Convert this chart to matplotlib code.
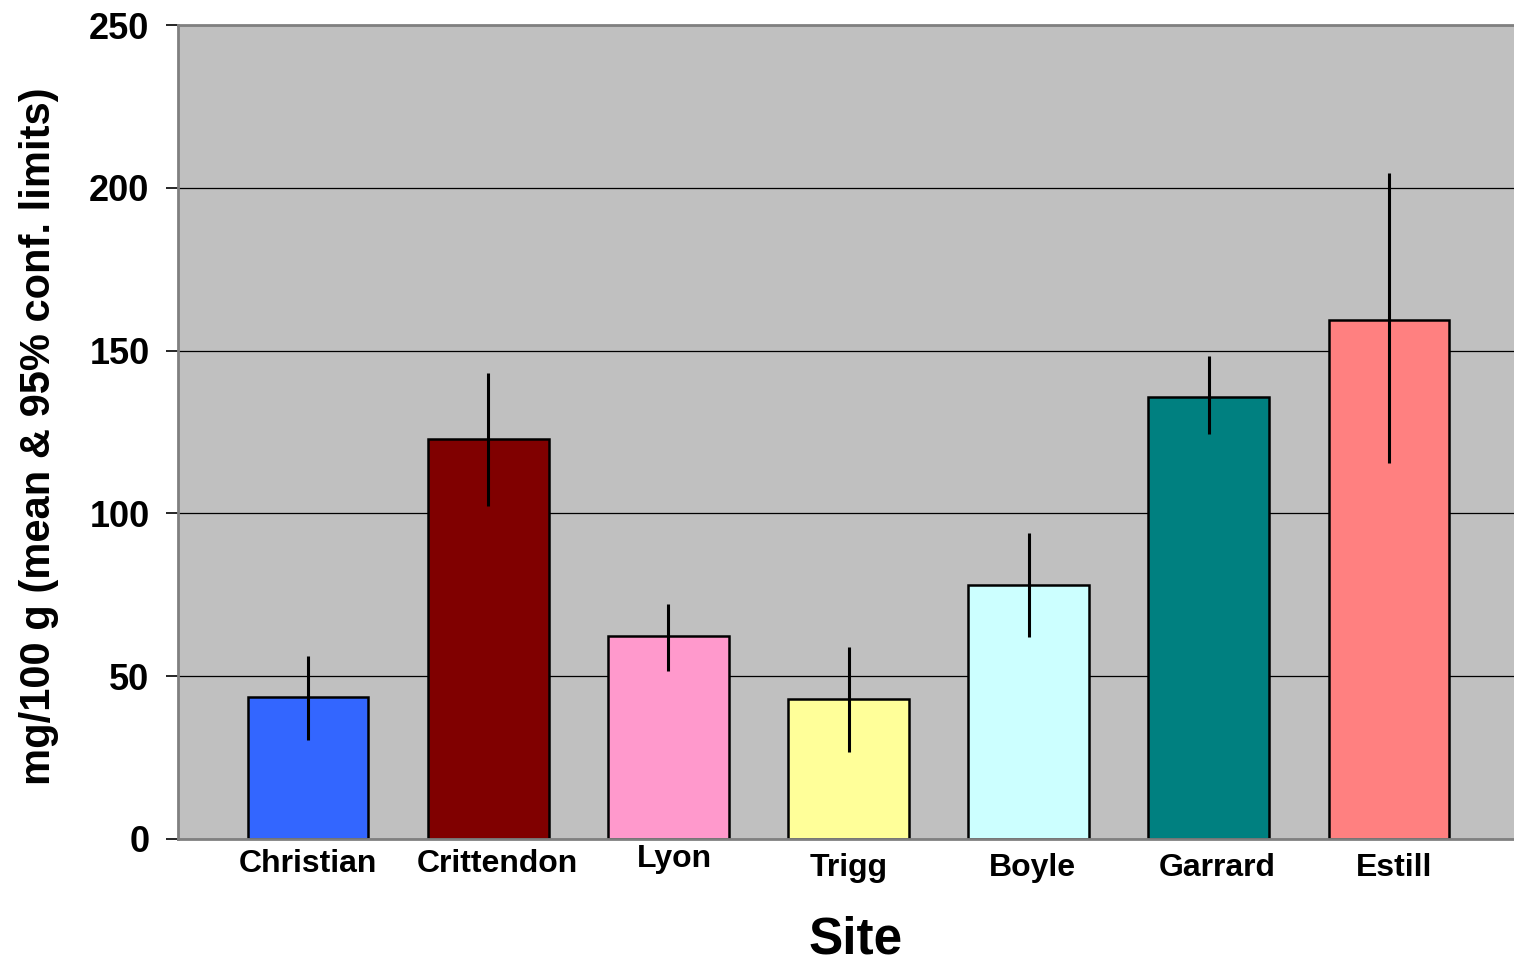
import numpy as np
import matplotlib.pyplot as plt

sites = ['Christian', 'Crittendon', 'Lyon', 'Trigg', 'Boyle', 'Garrard', 'Estill']
means = [43.6, 122.9, 62.3, 43.0, 78.0, 135.7, 159.4]
lower = [30.4, 102.3, 51.6, 26.7, 62.0, 124.4, 115.5]
upper = [56.2, 143.1, 72.2, 59.0, 94.0, 148.3, 204.5]
colors = ['#3366FF', '#800000', '#FF99CC', '#FFFF99', '#CCFFFF', '#008080', '#FF8080']
yticks = [0, 50, 100, 150, 200, 250]

plt.rcParams['font.family'] = ['Liberation Sans', 'DejaVu Sans']

fig = plt.figure(figsize=(15.14, 9.66), dpi=100)
ax = fig.add_axes([0.1176, 0.1315, 0.8824, 0.8426])
ax.set_facecolor('#C0C0C0')

x = np.arange(len(sites))
m = np.array(means)
yerr = [m - np.array(lower), np.array(upper) - m]

ax.set_axisbelow(True)
ax.yaxis.grid(True, color='black', linewidth=0.9)
ax.bar(x, means, width=0.67, color=colors, edgecolor='black', linewidth=1.8, zorder=2)
ax.errorbar(x, means, yerr=yerr, fmt='none', ecolor='black', elinewidth=2.2, capsize=0, zorder=3)

ax.set_xlim(-0.7215, 6.694)
ax.set_ylim(0, 250)
ax.set_yticks(yticks)
ax.set_yticklabels([str(t) for t in yticks], fontsize=26, fontweight='bold')
ax.tick_params(axis='y', length=8.5, width=1.2, color='black', pad=12)
ax.tick_params(axis='x', length=0, labelbottom=False)

for side in ['left', 'bottom', 'top']:
    ax.spines[side].set_color('#808080')
    ax.spines[side].set_linewidth(2)
ax.spines['right'].set_visible(False)

# site names sit a little off-centre and at uneven heights in the original
label_dx = [0, 6.5, 4.5, 0, 3, 6, 3.5]
label_dy = [18, 18, 14.5, 21, 21, 21, 21]
for xi, name, dx, dy in zip(x, sites, label_dx, label_dy):
    ax.annotate(name, xy=(xi, 0), xycoords=('data', 'axes fraction'),
                xytext=(dx, -dy), textcoords='offset points',
                ha='center', va='center', fontsize=23, fontweight='bold')

fig.text(0.565, 0.002, 'Site', ha='center', va='bottom', fontsize=37, fontweight='bold')
fig.text(0.026, 0.548, 'mg/100 g (mean & 95% conf. limits)', rotation=90,
         ha='center', va='center', fontsize=30, fontweight='bold')

fig.savefig('out.png', dpi=100)
